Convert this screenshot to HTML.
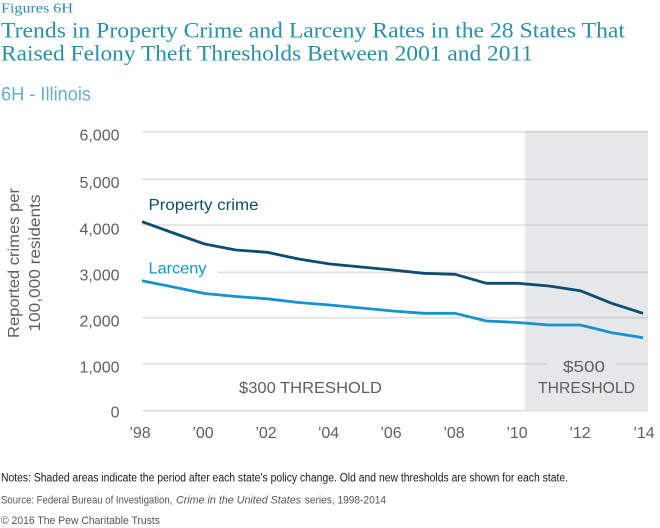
<!DOCTYPE html>
<html>
<head>
<meta charset="utf-8">
<style>
html,body{margin:0;padding:0;background:#fff;}
svg{display:block;}
</style>
</head>
<body>
<svg width="660" height="528" viewBox="0 0 660 528" xmlns="http://www.w3.org/2000/svg">
  <rect width="660" height="528" fill="#fff"/>
  <!-- Titles -->
  <text x="1" y="12.7" font-family="Liberation Serif, serif" font-size="14" fill="#2a8fa9" textLength="72" lengthAdjust="spacingAndGlyphs">Figures 6H</text>
  <text x="1" y="37.7" font-family="Liberation Serif, serif" font-size="22" fill="#2a8fa9" textLength="624" lengthAdjust="spacingAndGlyphs">Trends in Property Crime and Larceny Rates in the 28 States That</text>
  <text x="1" y="60.3" font-family="Liberation Serif, serif" font-size="22" fill="#2a8fa9" textLength="532" lengthAdjust="spacingAndGlyphs">Raised Felony Theft Thresholds Between 2001 and 2011</text>
  <text x="1" y="100.7" font-family="Liberation Sans, sans-serif" font-size="19" fill="#6aaec6" textLength="90" lengthAdjust="spacingAndGlyphs">6H - Illinois</text>

  <!-- shaded region -->
  <rect x="525" y="131.5" width="123" height="279" fill="#e6e7e9"/>

  <!-- gridlines -->
  <g stroke="#dfdfdf" stroke-width="1.6">
    <line x1="142" y1="131.7" x2="525" y2="131.7"/>
    <line x1="142" y1="179.3" x2="525" y2="179.3"/>
    <line x1="142" y1="225" x2="525" y2="225"/>
    <line x1="218" y1="272.3" x2="525" y2="272.3"/>
    <line x1="142" y1="317.7" x2="525" y2="317.7"/>
    <line x1="142" y1="363.7" x2="525" y2="363.7"/>
    <line x1="142" y1="410.7" x2="648" y2="410.7"/>
  </g>
  <g stroke="#cfd0d2" stroke-width="1.6">
    <line x1="525" y1="131.7" x2="648" y2="131.7"/>
    <line x1="525" y1="179.3" x2="648" y2="179.3"/>
    <line x1="525" y1="225" x2="648" y2="225"/>
    <line x1="525" y1="272.3" x2="648" y2="272.3"/>
    <line x1="525" y1="317.7" x2="648" y2="317.7"/>
    <line x1="525" y1="363.7" x2="546.7" y2="363.7"/>
    <line x1="616" y1="363.7" x2="648" y2="363.7"/>
  </g>

  <!-- y tick labels -->
  <g font-family="Liberation Sans, sans-serif" font-size="16" fill="#5f5f5f" text-anchor="end">
    <text x="119.5" y="140.5">6,000</text>
    <text x="119.5" y="188.2">5,000</text>
    <text x="119.5" y="234.5">4,000</text>
    <text x="119.5" y="280.7">3,000</text>
    <text x="119.5" y="326.5">2,000</text>
    <text x="119.5" y="372.3">1,000</text>
    <text x="119.5" y="417.7">0</text>
  </g>

  <!-- y axis title -->
  <g font-family="Liberation Sans, sans-serif" font-size="16" fill="#5f5f5f" text-anchor="middle">
    <text transform="translate(19,263) rotate(-90)" textLength="150" lengthAdjust="spacingAndGlyphs">Reported crimes per</text>
    <text transform="translate(40,263) rotate(-90)" textLength="137" lengthAdjust="spacingAndGlyphs">100,000 residents</text>
  </g>

  <!-- x tick labels -->
  <g font-family="Liberation Sans, sans-serif" font-size="16" fill="#5f5f5f" text-anchor="middle">
    <text x="140" y="438">’98</text>
    <text x="203" y="438">’00</text>
    <text x="266" y="438">’02</text>
    <text x="328.5" y="438">’04</text>
    <text x="391" y="438">’06</text>
    <text x="454" y="438">’08</text>
    <text x="517" y="438">’10</text>
    <text x="580" y="438">’12</text>
    <text x="644" y="438">’14</text>
  </g>

  <!-- series -->
  <polyline fill="none" stroke="#0e4d6e" stroke-width="2.8" stroke-linejoin="round"
    points="142,221.7 173.3,233 204.6,244 235.9,250 267.2,252.3 298.6,259 329.9,264 361.2,267 392.5,270 423.8,273.3 455.1,274.3 486.4,283.3 517.7,283.3 549,286 580.3,290.7 611.7,303.3 643,313.3"/>
  <polyline fill="none" stroke="#1594cf" stroke-width="2.8" stroke-linejoin="round"
    points="142,280.7 173.3,287 204.6,293.5 235.9,296.5 267.2,298.8 298.6,302.5 329.9,305 361.2,308 392.5,311 423.8,313.3 455.1,313.3 486.4,321 517.7,322.5 549,325 580.3,325 611.7,332.7 643,337.7"/>

  <!-- series labels -->
  <text x="148.5" y="210" font-family="Liberation Sans, sans-serif" font-size="16" fill="#0e4d6e" textLength="110" lengthAdjust="spacingAndGlyphs">Property crime</text>
  <text x="148.5" y="273.3" font-family="Liberation Sans, sans-serif" font-size="16" fill="#1594cf" textLength="58" lengthAdjust="spacingAndGlyphs">Larceny</text>

  <!-- threshold labels -->
  <g font-family="Liberation Sans, sans-serif" font-size="16" fill="#5f5f5f">
    <text x="239" y="393" textLength="143" lengthAdjust="spacingAndGlyphs">$300 THRESHOLD</text>
    <text x="584" y="372" text-anchor="middle" textLength="42" lengthAdjust="spacingAndGlyphs">$500</text>
    <text x="586.5" y="393" text-anchor="middle" textLength="97" lengthAdjust="spacingAndGlyphs">THRESHOLD</text>
  </g>

  <!-- notes -->
  <text x="1" y="481.7" font-family="Liberation Sans, sans-serif" font-size="11.5" fill="#1a1a1a" textLength="567" lengthAdjust="spacingAndGlyphs">Notes: Shaded areas indicate the period after each state’s policy change. Old and new thresholds are shown for each state.</text>
  <text x="1" y="503.3" font-family="Liberation Sans, sans-serif" font-size="11" fill="#555">
    <tspan textLength="174" lengthAdjust="spacingAndGlyphs">Source: Federal Bureau of Investigation, </tspan><tspan font-style="italic" x="176" textLength="125" lengthAdjust="spacingAndGlyphs">Crime in the United States</tspan><tspan x="302" textLength="84" lengthAdjust="spacingAndGlyphs"> series, 1998-2014</tspan>
  </text>
  <text x="1" y="524" font-family="Liberation Sans, sans-serif" font-size="11" fill="#555" textLength="159" lengthAdjust="spacingAndGlyphs">© 2016 The Pew Charitable Trusts</text>
</svg>
</body>
</html>
